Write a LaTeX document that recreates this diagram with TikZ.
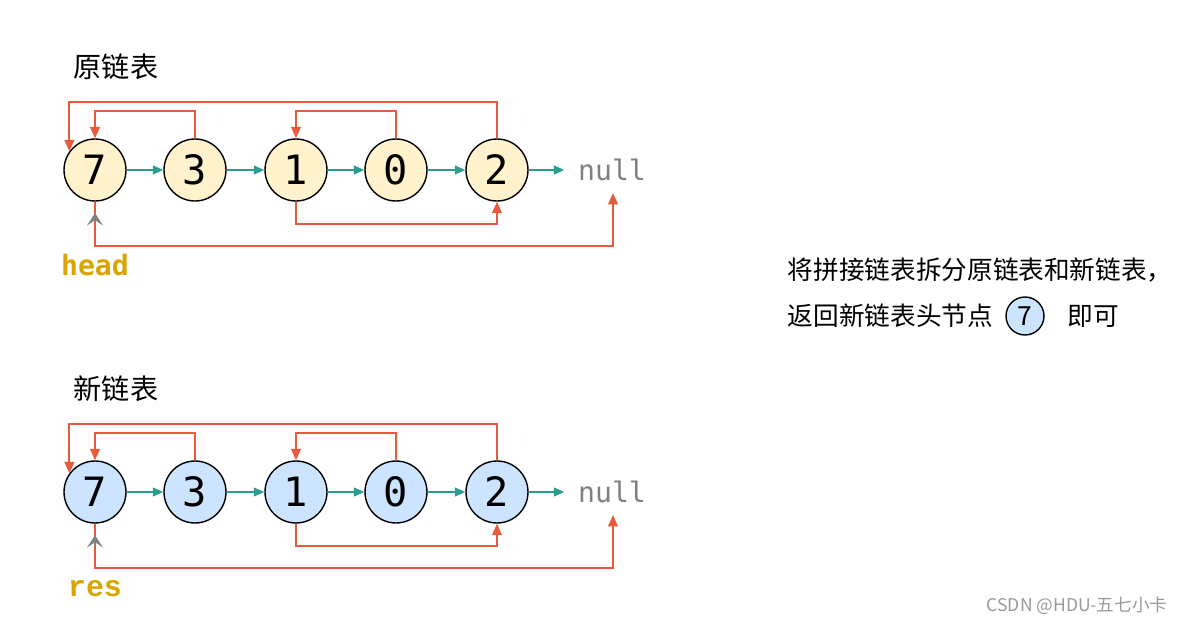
\documentclass[tikz,border=0pt]{standalone}
\usepackage{fontspec}
\setmainfont{Noto Sans CJK SC}
\newfontfamily\codefont{DejaVu Sans Mono}
\newfontfamily\resfont{Liberation Mono}
\usetikzlibrary{arrows.meta}

\definecolor{oldfill}{RGB}{255,242,204}
\definecolor{newfill}{RGB}{204,228,255}
\definecolor{nextcol}{RGB}{42,157,143}
\definecolor{randcol}{RGB}{232,90,60}
\definecolor{ptrcol}{RGB}{218,165,0}
\definecolor{nullcol}{RGB}{128,128,128}

\tikzset{every path/.style={line width=1.1pt}}
\tikzset{
  item/.style={circle, draw=black, line width=0.8pt, minimum size=1.24cm, inner sep=0pt,
    font=\codefont\fontsize{23}{23}\selectfont},
  olditem/.style={item, fill=oldfill},
  newitem/.style={item, fill=newfill},
  nextarr/.style={draw=nextcol, -{Triangle[length=6pt,width=5pt]}},
  randarr/.style={draw=randcol, -{Triangle[length=6.5pt,width=5.5pt]}},
  ptrarr/.style={draw=nullcol, line width=1.6pt, -{Stealth[length=7pt,width=9pt,inset=3pt]}},
  title/.style={font=\fontsize{16}{16}\selectfont},
  note/.style={font=\fontsize{14.6}{14.6}\selectfont, anchor=west},
  nulltext/.style={text=nullcol, font=\codefont\fontsize{16}{16}\selectfont},
}

\begin{document}
\begin{tikzpicture}[x=0.02cm, y=-0.02cm]
\useasboundingbox (0,0) rectangle (1191,625);

% both lists
\foreach \r/\y/\sty/\lbl in {o/170/olditem/原链表, n/492/newitem/新链表} {
  \node[title] (\r title) at (116,\y-103) {\lbl};
  \node[\sty] (\r7) at (95,\y) {7};
  \node[\sty] (\r3) at (195,\y) {3};
  \node[\sty] (\r1) at (296,\y) {1};
  \node[\sty] (\r0) at (396,\y) {0};
  \node[\sty] (\r2) at (497,\y) {2};
  \node[nulltext] (\r null) at (612,\y) {null};
  \coordinate (\r tail) at (613,\y+23);
  \draw[nextarr] (\r7) -- (\r3);
  \draw[nextarr] (\r3) -- (\r1);
  \draw[nextarr] (\r1) -- (\r0);
  \draw[nextarr] (\r0) -- (\r2);
  \draw[nextarr, shorten >=4pt] (\r2) -- (\r null.west);
}

% random links
\foreach \r in {o, n} {
  \draw[randarr] (\r2.north) -- ++(0,-36) -| (\r7.144);
  \draw[randarr] (\r3.north) -- ++(0,-27) -| (\r7.north);
  \draw[randarr] (\r0.north) -- ++(0,-27) -| (\r1.north);
  \draw[randarr] (\r1.south) -- ++(0,22) -| (\r2.south);
  \draw[randarr] (\r7.south) -- ++(0,44) -| (\r tail);
}

% pointers
\node[text=ptrcol, inner sep=0pt, font=\codefont\bfseries\fontsize{16}{16}\selectfont] (head) at (95,265) {head};
\node[text=ptrcol, inner sep=0pt, font=\resfont\bfseries\fontsize{17}{17}\selectfont] (res) at (95,589) {res};
\draw[ptrarr, shorten <=19pt, shorten >=6.5pt] (head.north) -- (o7.south);
\draw[ptrarr, shorten <=19pt, shorten >=6.5pt] (res.north) -- (n7.south);

% explanation
\node[note] (line1) at (781,270) {将拼接链表拆分原链表和新链表，};
\node[note] (line2) at (781,316) {返回新链表头节点};
\node[circle, draw=black, line width=0.8pt, fill=newfill, minimum size=0.76cm, inner sep=0pt,
  font=\fontsize{15}{15}\selectfont] (mini) at (1025,316) {7};
\node[note] (line3) at (1061,316) {即可};

\node[text=nullcol!80, font=\fontsize{10}{10}\selectfont] (mark) at (1077,606) {CSDN @HDU-五七小卡};
\end{tikzpicture}
\end{document}
